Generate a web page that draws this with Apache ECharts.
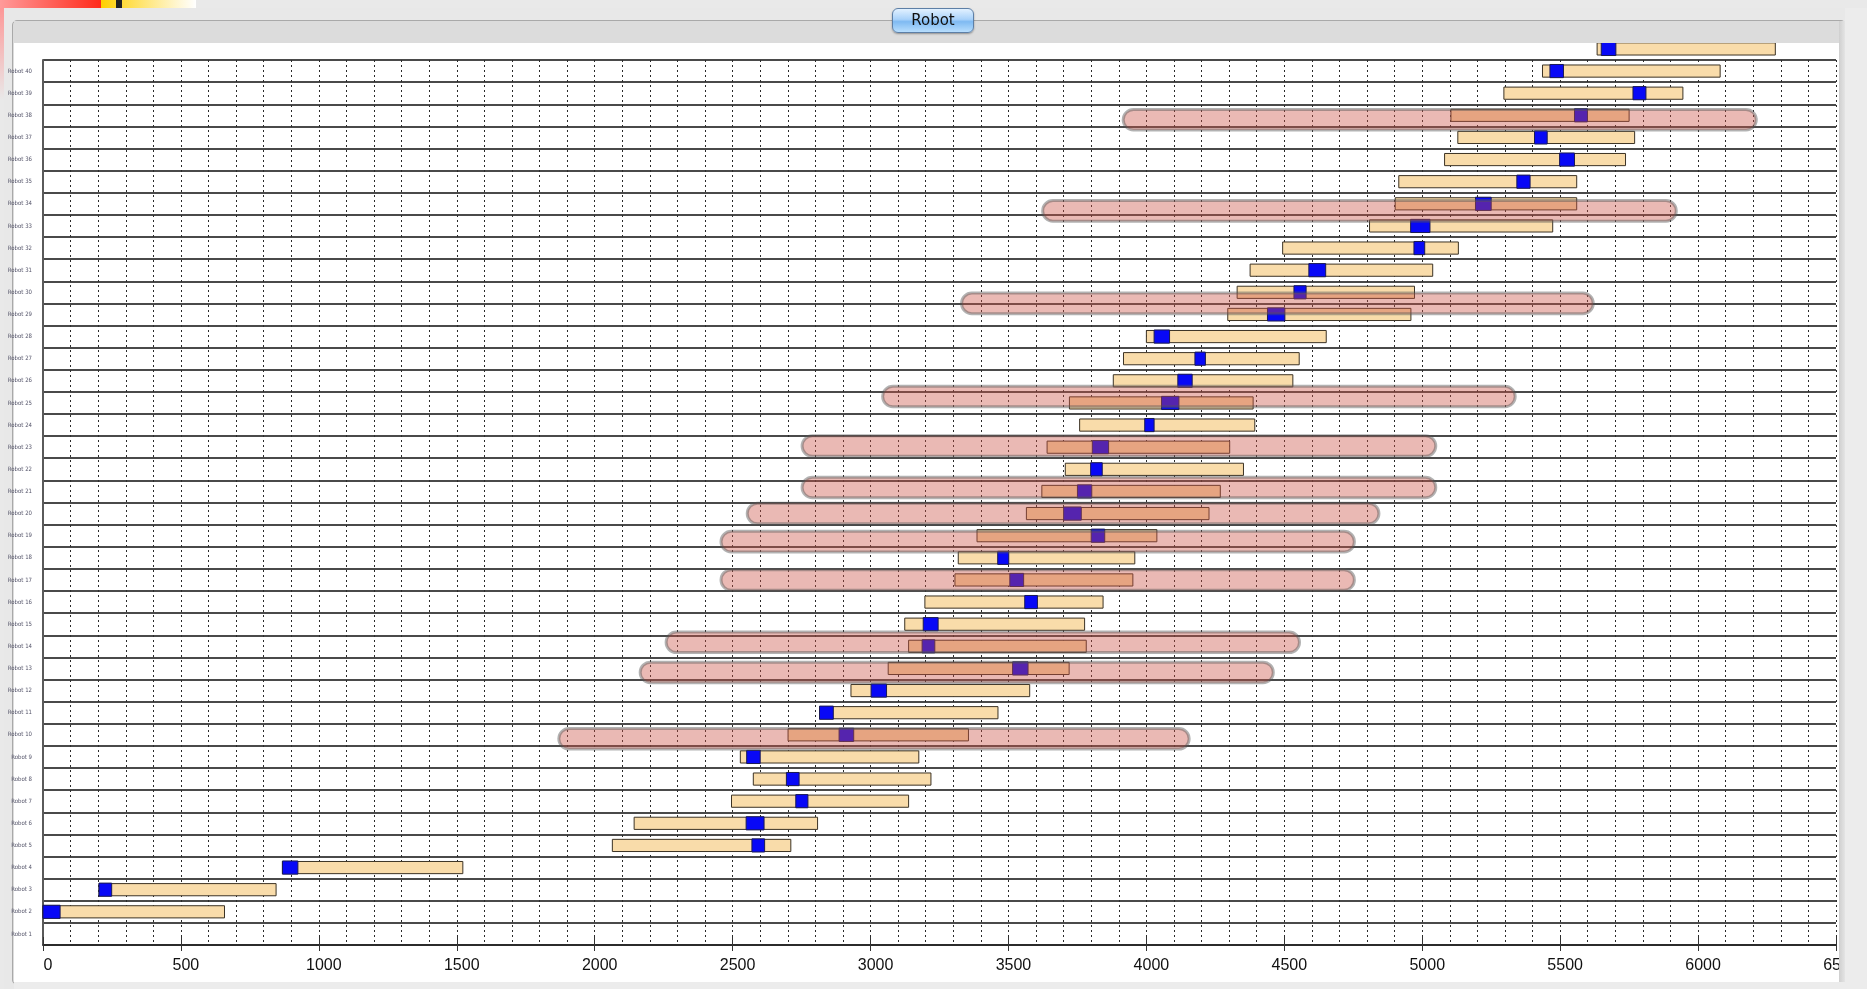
<!DOCTYPE html>
<html>
<head>
<meta charset="utf-8">
<script src="https://cdn.jsdelivr.net/npm/echarts@6/dist/echarts.min.js"></script>
<style>
  html,body{margin:0;padding:0;width:1867px;height:989px;overflow:hidden;background:#e9e9e9;}
  .abs{position:absolute;}
  #chart{position:absolute;left:0;top:0;width:1867px;height:989px;z-index:2;}
  .mask{position:absolute;z-index:3;}
  #btn{position:absolute;z-index:4;left:892px;top:8px;width:82px;height:25px;border-radius:6px;
       border:1px solid #5d7fa6;box-sizing:border-box;
       background:linear-gradient(to bottom,#e2f1ff 0%,#a9d2fa 45%,#7fbaf2 55%,#b8defd 100%);
       box-shadow:0 1px 2px rgba(0,0,0,0.35);
       font-family:'DejaVu Sans','Liberation Sans',sans-serif;font-size:15px;color:#111;
       text-align:center;line-height:23px;}
</style>
</head>
<body>
<!-- desktop artefacts -->
<div class="abs" style="left:0;top:0;width:12px;height:100px;background:linear-gradient(to bottom,#ff9090,rgba(255,220,220,0));"></div>
<div class="abs" style="left:0;top:0;width:101px;height:8px;background:linear-gradient(to right,#ff9a9a,#ff2a1a);"></div>
<div class="abs" style="left:101px;top:0;width:95px;height:8px;background:linear-gradient(to right,#ffd000,#fff6d0 80%,#ffffff);"></div>
<div class="abs" style="left:116px;top:0;width:6px;height:8px;background:#222;"></div>
<!-- window -->
<div class="abs" style="left:4px;top:8px;width:1863px;height:981px;background:#e8e8e8;"></div>
<div class="abs" style="left:12px;top:20px;width:1834px;height:965px;background:#dcdcdc;border:1px solid #a9a9a9;border-radius:5px;box-sizing:border-box;"></div>
<div class="abs" style="left:14px;top:43px;width:1825px;height:939px;background:#ffffff;"></div>

<div id="chart"></div>

<!-- masks on top of the chart (window frame) -->
<div class="mask" style="left:14px;top:21px;width:1825px;height:22px;background:#dcdcdc;"></div>
<div class="mask" style="left:1839px;top:21px;width:6px;height:962px;background:linear-gradient(to right,#cfcfcf,#e4e4e4);"></div>
<div class="mask" style="left:1845px;top:8px;width:22px;height:981px;background:#ececec;"></div>
<div class="mask" style="left:14px;top:982px;width:1831px;height:7px;background:#ececec;"></div>
<div id="btn">Robot</div>

<script>
// ---- data ----
const robotLabels = ['Robot 1','Robot 2','Robot 3','Robot 4','Robot 5','Robot 6','Robot 7','Robot 8','Robot 9','Robot 10',
  'Robot 11','Robot 12','Robot 13','Robot 14','Robot 15','Robot 16','Robot 17','Robot 18','Robot 19','Robot 20',
  'Robot 21','Robot 22','Robot 23','Robot 24','Robot 25','Robot 26','Robot 27','Robot 28','Robot 29','Robot 30',
  'Robot 31','Robot 32','Robot 33','Robot 34','Robot 35','Robot 36','Robot 37','Robot 38','Robot 39','Robot 40'];

// task bars: robot number, start, end, marker start, marker end
const barRobot  = [2, 3, 4, 5, 6, 7, 8, 9, 10, 11, 12, 13, 14, 15, 16, 17, 18, 19, 20, 21,
                   22, 23, 24, 25, 26, 27, 28, 29, 30, 31, 32, 33, 34, 35, 36, 37, 38, 39, 40, 41];
const barStart  = [0, 203, 868, 2064, 2143, 2496, 2575, 2528, 2701, 2815, 2929, 3064, 3138, 3124, 3197, 3306, 3318, 3386, 3565, 3621,
                   3706, 3640, 3758, 3721, 3880, 3917, 4000, 4295, 4329, 4376, 4494, 4809, 4902, 4915, 5081, 5129, 5104, 5296, 5436, 5634];
const barEnd    = [658, 845, 1522, 2711, 2808, 3138, 3219, 3175, 3355, 3462, 3577, 3720, 3782, 3776, 3843, 3951, 3958, 4038, 4227, 4268,
                   4352, 4302, 4393, 4387, 4531, 4554, 4652, 4959, 4972, 5038, 5131, 5473, 5560, 5560, 5737, 5770, 5750, 5945, 6080, 6280];
const markStart = [0, 203, 868, 2570, 2549, 2729, 2695, 2551, 2886, 2815, 3002, 3515, 3187, 3191, 3559, 3505, 3461, 3800, 3700, 3750,
                   3798, 3804, 3994, 4055, 4114, 4176, 4028, 4439, 4535, 4589, 4970, 4958, 5193, 5343, 5498, 5407, 5552, 5764, 5463, 5649];
const markEnd   = [62, 249, 924, 2616, 2614, 2773, 2741, 2600, 2939, 2865, 3058, 3571, 3233, 3245, 3605, 3555, 3501, 3849, 3764, 3802,
                   3840, 3863, 4028, 4118, 4166, 4214, 4084, 4502, 4579, 4650, 5009, 5028, 5250, 5391, 5552, 5453, 5599, 5811, 5512, 5702];

// translucent capsules: row position (in robot-number units), start, end
const capRow   = [37.8, 33.68, 29.5, 25.29, 23.05, 21.18, 20.0, 18.73, 17.0, 14.18, 12.82, 9.82];
const capStart = [3916, 3624, 3330, 3044, 2752, 2752, 2553, 2458, 2458, 2259, 2165, 1870];
const capEnd   = [6211, 5921, 5620, 5337, 5049, 5049, 4843, 4754, 4754, 4555, 4460, 4155];

const xTicks = {min: 0, max: 6500, interval: 500};

// ---- build ----
const barData = barRobot.map((r, i) => [barStart[i], barEnd[i], r - 0.5, markStart[i], markEnd[i]]);
const capData = capRow.map((r, i) => [capStart[i], capEnd[i], r - 0.5]);

const chart = echarts.init(document.getElementById('chart'), null, {renderer: 'canvas'});

function renderBar(params, api) {
  const lane = api.value(2);
  const p0 = api.coord([api.value(0), lane]);
  const p1 = api.coord([api.value(1), lane]);
  const m0 = api.coord([api.value(3), lane]);
  const m1 = api.coord([api.value(4), lane]);
  const h = Math.abs(api.size([0, 1])[1]);
  const bh = h * 0.55;
  return {
    type: 'group',
    children: [
      {type: 'rect', shape: {x: p0[0], y: p0[1] - bh / 2, width: p1[0] - p0[0], height: bh},
       style: {fill: '#f9dcaa', stroke: '#3c3325', lineWidth: 1}},
      {type: 'rect', shape: {x: m0[0], y: m0[1] - bh / 2 - 0.5, width: m1[0] - m0[0], height: bh + 1},
       style: {fill: '#0808f6', stroke: '#1a1a55', lineWidth: 1}}
    ]
  };
}

function renderCap(params, api) {
  const lane = api.value(2);
  const p0 = api.coord([api.value(0), lane]);
  const p1 = api.coord([api.value(1), lane]);
  const h = Math.abs(api.size([0, 1])[1]) * 0.93;
  return {
    type: 'rect',
    shape: {x: p0[0], y: p0[1] - h / 2, width: p1[0] - p0[0], height: h, r: h / 2},
    style: {fill: 'rgba(202,80,67,0.40)', stroke: 'rgba(85,85,85,0.45)', lineWidth: 3}
  };
}

const dashStyle = {type: [2, 3], color: '#2a2a2a', width: 1};

chart.setOption({
  animation: false,
  backgroundColor: 'transparent',
  grid: {left: 43, right: 31, top: 60, bottom: 44, containLabel: false},
  xAxis: [
    {
      type: 'value', position: 'bottom', min: xTicks.min, max: xTicks.max, interval: xTicks.interval,
      axisLine: {show: true, lineStyle: {color: '#222', width: 1.5}},
      axisTick: {show: true, inside: false, length: 6, lineStyle: {color: '#333', width: 1}},
      axisLabel: {show: true, fontSize: 16, color: '#111', fontFamily: 'Liberation Sans, Arial, sans-serif',
                  margin: 13, padding: [0, 0, 0, 10], showMinLabel: true, showMaxLabel: true,
                  formatter: v => String(v)},
      splitLine: {show: true, lineStyle: dashStyle},
      minorTick: {show: false, splitNumber: 5},
      minorSplitLine: {show: true, lineStyle: dashStyle}
    },
    {
      type: 'value', position: 'bottom', min: xTicks.min, max: xTicks.max, interval: xTicks.interval,
      axisLine: {show: false}, axisLabel: {show: false}, splitLine: {show: false},
      axisTick: {show: true, inside: true, length: 8, lineStyle: {color: '#333', width: 1}}
    }
  ],
  yAxis: [
    {
      type: 'value', position: 'left', min: 0, max: 40, interval: 1,
      axisLine: {show: true, lineStyle: {color: '#5a5a5a', width: 2}},
      axisTick: {show: false}, axisLabel: {show: false},
      splitLine: {show: true, lineStyle: {color: '#4a4a4a', width: 1.8}}
    },
    {
      type: 'category', position: 'left', data: robotLabels, boundaryGap: true,
      axisLine: {show: false}, axisTick: {show: false}, splitLine: {show: false},
      axisLabel: {show: true, interval: 0, fontSize: 6, color: '#55556a', margin: 11,
                  fontFamily: 'Liberation Sans Narrow, DejaVu Sans Condensed, sans-serif'}
    }
  ],
  series: [
    {type: 'custom', name: 'tasks', xAxisIndex: 0, yAxisIndex: 0, clip: false, z: 2,
     renderItem: renderBar, encode: {x: [0, 1], y: 2}, data: barData},
    {type: 'custom', name: 'windows', xAxisIndex: 0, yAxisIndex: 0, clip: false, z: 3,
     renderItem: renderCap, encode: {x: [0, 1], y: 2}, data: capData}
  ]
});
</script>
</body>
</html>
